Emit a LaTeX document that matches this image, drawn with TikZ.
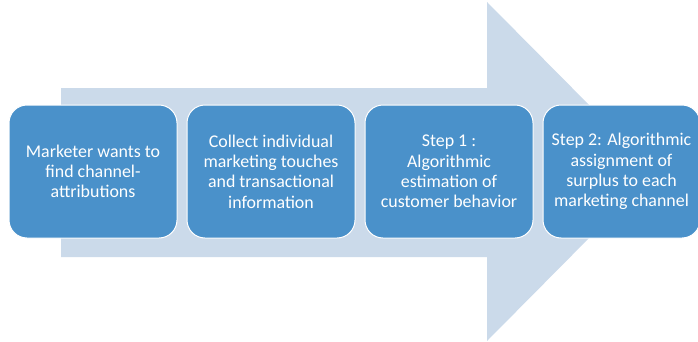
\documentclass[tikz,border=0pt]{standalone}
\usepackage{fontspec}
\setmainfont{Carlito}
\usetikzlibrary{positioning}
\definecolor{arrowblue}{HTML}{CBDAEA}
\definecolor{stepblue}{HTML}{4A91CA}
\tikzset{
	stepbox/.style={draw=white, line width=1pt, fill=stepblue, rounded corners=18pt,
		minimum width=168pt, minimum height=133pt, align=center, text=white,
		font=\fontsize{17.9}{20.3}\selectfont, inner sep=0pt}
}

\begin{document}
\begin{tikzpicture}[x=1pt,y=1pt]
		\useasboundingbox (0,0) rectangle (698,341);
		\fill [arrowblue] (61,84) -- (61,253) -- (487,253) -- (487,339) -- (655,169.5) -- (487,0) -- (487,84) -- cycle;
		
		\node [stepbox] (want) at (93,169.5) {Marketer wants to\\find channel-\\attributions};
		\node [stepbox, right=9pt of want] (collect) {Collect individual\\marketing touches\\and transactional\\information};
		\node [stepbox, right=9pt of collect] (estimate) {Step 1 :\\Algorithmic\\estimation of\\customer behavior};
		\node [stepbox, right=9pt of estimate, minimum width=157pt] (assign) {Step 2: Algorithmic\\assignment of\\surplus to each\\marketing channel};
	
	\end{tikzpicture}
\end{document}
